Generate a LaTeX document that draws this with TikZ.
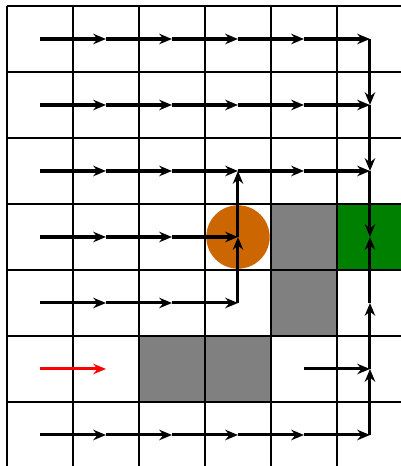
\documentclass[tikz,border=0pt]{standalone}
\usetikzlibrary{arrows.meta}
\definecolor{gwobst}{HTML}{808080}
\definecolor{gwedge}{HTML}{A8A8A8}
\definecolor{gwgoal}{HTML}{008000}
\definecolor{gwagent}{HTML}{CC6600}
\tikzset{
  cellline/.style={line width=0.9pt, color=black},
  obst/.style={fill=gwobst, draw=gwedge, line width=1pt},
  goal/.style={fill=gwgoal, draw=gwgoal!75!white, line width=1pt},
  agent/.style={circle, fill=gwagent, minimum size=0.96cm, inner sep=0pt},
  arr/.style={-{Stealth[length=5.5pt, width=4.5pt, inset=1.8pt]}, line width=1.3pt, color=black},
  arrred/.style={arr, color=red},
}
\begin{document}
\begin{tikzpicture}[x=1cm, y=-1cm]
    \useasboundingbox (-0.106,-0.091) rectangle (5.955,6.97);
    % cell centres, s<row><col>
    \foreach \r in {0,...,6}
      \foreach \c in {0,...,5}
        \coordinate (s\r\c) at (\c+0.5,\r+0.5);
    % walls, goal, agent
    \foreach \x/\y in {4/3,4/4,2/5,3/5} \filldraw[obst] (\x,\y) rectangle ++(1,1);
    \filldraw[goal] (5,3) rectangle (6,4);
    \node[agent] (agent) at (s33) {};
    \draw[cellline] (0,0) grid (6,7);
    % policy
    \foreach \a/\b in {00/01,01/02,02/03,03/04,04/05,05/15,
                       10/11,11/12,12/13,13/14,14/15,15/25,
                       20/21,21/22,22/23,23/24,24/25,25/35,
                       30/31,31/32,32/33,33/23,
                       40/41,41/42,42/43,43/33,
                       54/55,55/45,45/35,
                       60/61,61/62,62/63,63/64,64/65,65/55}
      \draw[arr] (s\a) -- (s\b);
    \draw[arrred] (s50) -- (s51);
  \end{tikzpicture}
\end{document}
